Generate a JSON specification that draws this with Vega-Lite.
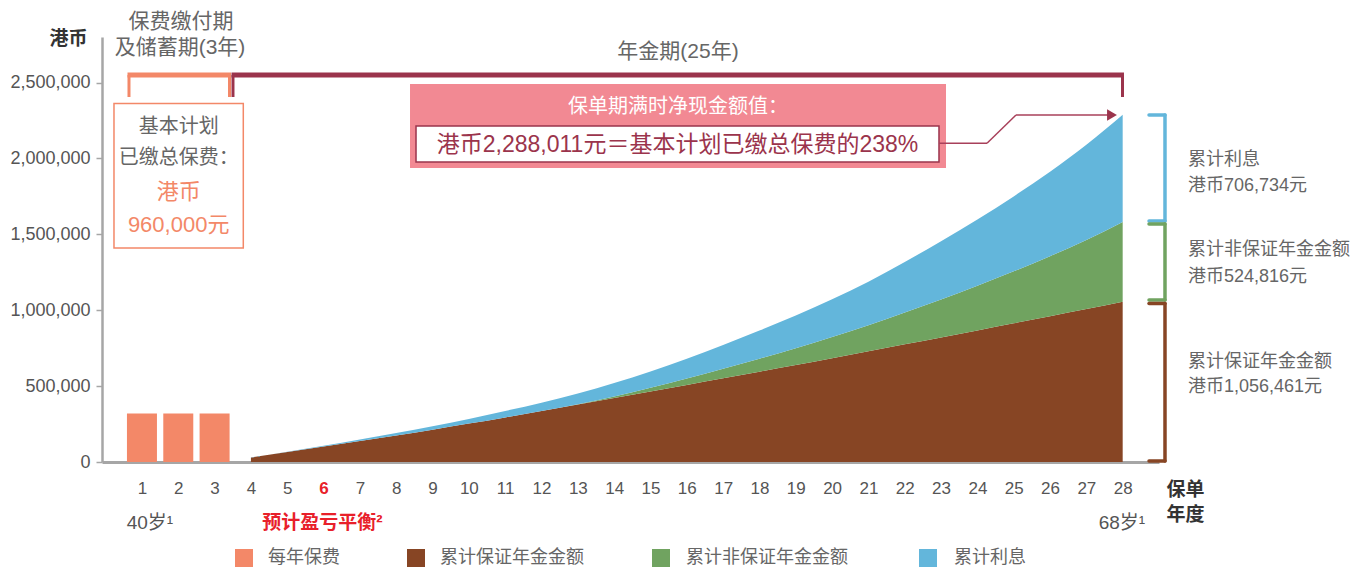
{
  "$schema": "https://vega.github.io/schema/vega-lite/v6.json",
  "width": 1057,
  "height": 425,
  "autosize": "none",
  "padding": {"left": 102, "top": 37, "right": 211, "bottom": 106},
  "background": "white",
  "config": {"view": {"stroke": null}, "font": "Liberation Sans, Noto Sans CJK SC", "scale": {"continuousPadding": 0}},
  "datasets": {
    "premium": [
      {"year": 1, "value": 320000},
      {"year": 2, "value": 320000},
      {"year": 3, "value": 320000}
    ],
    "annuity": [
      {"year": 4, "series": "累计保证年金金额", "k": 1, "value": 30000},
      {"year": 4, "series": "累计非保证年金金额", "k": 2, "value": 0},
      {"year": 4, "series": "累计利息", "k": 3, "value": 500},
      {"year": 5, "series": "累计保证年金金额", "k": 1, "value": 66000},
      {"year": 5, "series": "累计非保证年金金额", "k": 2, "value": 0},
      {"year": 5, "series": "累计利息", "k": 3, "value": 2000},
      {"year": 6, "series": "累计保证年金金额", "k": 1, "value": 102000},
      {"year": 6, "series": "累计非保证年金金额", "k": 2, "value": 0},
      {"year": 6, "series": "累计利息", "k": 3, "value": 5000},
      {"year": 7, "series": "累计保证年金金额", "k": 1, "value": 138000},
      {"year": 7, "series": "累计非保证年金金额", "k": 2, "value": 0},
      {"year": 7, "series": "累计利息", "k": 3, "value": 10000},
      {"year": 8, "series": "累计保证年金金额", "k": 1, "value": 175000},
      {"year": 8, "series": "累计非保证年金金额", "k": 2, "value": 0},
      {"year": 8, "series": "累计利息", "k": 3, "value": 16000},
      {"year": 9, "series": "累计保证年金金额", "k": 1, "value": 213000},
      {"year": 9, "series": "累计非保证年金金额", "k": 2, "value": 0},
      {"year": 9, "series": "累计利息", "k": 3, "value": 22000},
      {"year": 10, "series": "累计保证年金金额", "k": 1, "value": 253000},
      {"year": 10, "series": "累计非保证年金金额", "k": 2, "value": 0},
      {"year": 10, "series": "累计利息", "k": 3, "value": 31000},
      {"year": 11, "series": "累计保证年金金额", "k": 1, "value": 294000},
      {"year": 11, "series": "累计非保证年金金额", "k": 2, "value": 0},
      {"year": 11, "series": "累计利息", "k": 3, "value": 42000},
      {"year": 12, "series": "累计保证年金金额", "k": 1, "value": 336000},
      {"year": 12, "series": "累计非保证年金金额", "k": 2, "value": 0},
      {"year": 12, "series": "累计利息", "k": 3, "value": 55000},
      {"year": 13, "series": "累计保证年金金额", "k": 1, "value": 379000},
      {"year": 13, "series": "累计非保证年金金额", "k": 2, "value": 2000},
      {"year": 13, "series": "累计利息", "k": 3, "value": 70000},
      {"year": 14, "series": "累计保证年金金额", "k": 1, "value": 422000},
      {"year": 14, "series": "累计非保证年金金额", "k": 2, "value": 10000},
      {"year": 14, "series": "累计利息", "k": 3, "value": 88000},
      {"year": 15, "series": "累计保证年金金额", "k": 1, "value": 465000},
      {"year": 15, "series": "累计非保证年金金额", "k": 2, "value": 24000},
      {"year": 15, "series": "累计利息", "k": 3, "value": 108000},
      {"year": 16, "series": "累计保证年金金额", "k": 1, "value": 508000},
      {"year": 16, "series": "累计非保证年金金额", "k": 2, "value": 42000},
      {"year": 16, "series": "累计利息", "k": 3, "value": 130000},
      {"year": 17, "series": "累计保证年金金额", "k": 1, "value": 551000},
      {"year": 17, "series": "累计非保证年金金额", "k": 2, "value": 64000},
      {"year": 17, "series": "累计利息", "k": 3, "value": 156000},
      {"year": 18, "series": "累计保证年金金额", "k": 1, "value": 595000},
      {"year": 18, "series": "累计非保证年金金额", "k": 2, "value": 86000},
      {"year": 18, "series": "累计利息", "k": 3, "value": 185000},
      {"year": 19, "series": "累计保证年金金额", "k": 1, "value": 639000},
      {"year": 19, "series": "累计非保证年金金额", "k": 2, "value": 110000},
      {"year": 19, "series": "累计利息", "k": 3, "value": 216000},
      {"year": 20, "series": "累计保证年金金额", "k": 1, "value": 684000},
      {"year": 20, "series": "累计非保证年金金额", "k": 2, "value": 139000},
      {"year": 20, "series": "累计利息", "k": 3, "value": 250000},
      {"year": 21, "series": "累计保证年金金额", "k": 1, "value": 729000},
      {"year": 21, "series": "累计非保证年金金额", "k": 2, "value": 172000},
      {"year": 21, "series": "累计利息", "k": 3, "value": 287000},
      {"year": 22, "series": "累计保证年金金额", "k": 1, "value": 775000},
      {"year": 22, "series": "累计非保证年金金额", "k": 2, "value": 210000},
      {"year": 22, "series": "累计利息", "k": 3, "value": 333000},
      {"year": 23, "series": "累计保证年金金额", "k": 1, "value": 821000},
      {"year": 23, "series": "累计非保证年金金额", "k": 2, "value": 250000},
      {"year": 23, "series": "累计利息", "k": 3, "value": 383000},
      {"year": 24, "series": "累计保证年金金额", "k": 1, "value": 867000},
      {"year": 24, "series": "累计非保证年金金额", "k": 2, "value": 294000},
      {"year": 24, "series": "累计利息", "k": 3, "value": 437000},
      {"year": 25, "series": "累计保证年金金额", "k": 1, "value": 914000},
      {"year": 25, "series": "累计非保证年金金额", "k": 2, "value": 342000},
      {"year": 25, "series": "累计利息", "k": 3, "value": 494000},
      {"year": 26, "series": "累计保证年金金额", "k": 1, "value": 961000},
      {"year": 26, "series": "累计非保证年金金额", "k": 2, "value": 395000},
      {"year": 26, "series": "累计利息", "k": 3, "value": 556000},
      {"year": 27, "series": "累计保证年金金额", "k": 1, "value": 1008000},
      {"year": 27, "series": "累计非保证年金金额", "k": 2, "value": 455000},
      {"year": 27, "series": "累计利息", "k": 3, "value": 627000},
      {"year": 28, "series": "累计保证年金金额", "k": 1, "value": 1056461},
      {"year": 28, "series": "累计非保证年金金额", "k": 2, "value": 524816},
      {"year": 28, "series": "累计利息", "k": 3, "value": 706734}
    ]
  },
  "layer": [
    {
      "data": {"name": "annuity"},
      "mark": {"type": "area", "interpolate": "monotone"},
      "encoding": {
        "x": {
          "field": "year", "type": "quantitative",
          "scale": {"domain": [-0.1, 29], "nice": false, "zero": false, "padding": 0},
          "axis": {
            "values": [1,2,3,4,5,6,7,8,9,10,11,12,13,14,15,16,17,18,19,20,21,22,23,24,25,26,27,28],
            "tickCount": 40,
            "format": "d", "grid": false, "ticks": false,
            "labelFontSize": 17, "labelPadding": 18, "labelFlush": false, "labelOverlap": false, "labelBound": false,
            "labelColor": {"condition": {"test": "datum.value === 6", "value": "#E8202A"}, "value": "#555555"},
            "labelFontWeight": {"condition": {"test": "datum.value === 6", "value": "bold"}, "value": "normal"},
            "domainColor": "#A6A6A6", "domainWidth": 3,
            "title": ["保单", "年度"], "titleFontSize": 19, "titleFontWeight": "bold", "titleColor": "#333333",
            "titleAngle": 0, "titleAlign": "center", "titleBaseline": "top", "titleX": 1083, "titleY": 18, "titleLineHeight": 25
          }
        },
        "y": {
          "field": "value", "type": "quantitative", "stack": "zero",
          "scale": {"domain": [0, 2800000], "nice": false},
          "axis": {
            "values": [0, 500000, 1000000, 1500000, 2000000, 2500000],
            "format": ",d", "grid": false,
            "labelFontSize": 18, "labelColor": "#555555", "labelPadding": 6,
            "tickColor": "#A6A6A6", "tickSize": 6, "tickWidth": 1.5,
            "domainColor": "#A6A6A6", "domainWidth": 2.5,
            "title": "港币", "titleFontSize": 19, "titleFontWeight": "bold", "titleColor": "#333333",
            "titleAngle": 0, "titleAlign": "center", "titleBaseline": "middle", "titleX": -34, "titleY": 1
          }
        },
        "color": {
          "field": "series", "type": "nominal", "legend": null,
          "scale": {"domain": ["累计保证年金金额", "累计非保证年金金额", "累计利息"], "range": ["#874524", "#70A360", "#63B6DB"]}
        },
        "order": {"field": "k", "type": "quantitative"}
      }
    },
    {
      "data": {"name": "premium"},
      "mark": {"type": "bar", "width": 30, "color": "#F38868"},
      "encoding": {
        "x": {"field": "year", "type": "quantitative"},
        "y": {"field": "value", "type": "quantitative"}
      }
    },
    {"data": {"values": [{}]}, "mark": {"type": "rect", "fill": "white", "stroke": "#F38868", "strokeWidth": 1.5},
     "encoding": {"x": {"datum": 0.23}, "x2": {"datum": 3.79}, "y": {"datum": 2361882}, "y2": {"datum": 1409882}}},
    {"data": {"values": [{}]}, "mark": {"type": "rect", "fill": "#F28993"},
     "encoding": {"x": {"datum": 8.38}, "x2": {"datum": 23.136}, "y": {"datum": 2490353}, "y2": {"datum": 1936941}}},
    {"data": {"values": [{}]}, "mark": {"type": "rect", "fill": "white", "stroke": "#9B344C", "strokeWidth": 1.5},
     "encoding": {"x": {"datum": 8.545}, "x2": {"datum": 22.943}, "y": {"datum": 2213647}, "y2": {"datum": 1976471}}},

    {"data": {"values": [{}]}, "mark": {"type": "rule", "color": "#F38868", "strokeWidth": 5},
     "encoding": {"x": {"datum": 0.602}, "x2": {"datum": 3.451}, "y": {"datum": 2549647}}},
    {"data": {"values": [{}]}, "mark": {"type": "rule", "color": "#F38868", "strokeWidth": 3},
     "encoding": {"x": {"datum": 0.643}, "y": {"datum": 2549647}, "y2": {"datum": 2404706}}},
    {"data": {"values": [{}]}, "mark": {"type": "rule", "color": "#F38868", "strokeWidth": 3},
     "encoding": {"x": {"datum": 3.41}, "y": {"datum": 2549647}, "y2": {"datum": 2404706}}},
    {"data": {"values": [{}]}, "mark": {"type": "rule", "color": "#9B344C", "strokeWidth": 5},
     "encoding": {"x": {"datum": 3.465}, "x2": {"datum": 28.036}, "y": {"datum": 2549647}}},
    {"data": {"values": [{}]}, "mark": {"type": "rule", "color": "#9B344C", "strokeWidth": 3},
     "encoding": {"x": {"datum": 3.506}, "y": {"datum": 2549647}, "y2": {"datum": 2404706}}},
    {"data": {"values": [{}]}, "mark": {"type": "rule", "color": "#9B344C", "strokeWidth": 3},
     "encoding": {"x": {"datum": 27.995}, "y": {"datum": 2549647}, "y2": {"datum": 2404706}}},

    {"data": {"values": [{}]}, "mark": {"type": "rule", "color": "#A8405A", "strokeWidth": 1.5},
     "encoding": {"x": {"datum": 22.943}, "x2": {"datum": 24.265}, "y": {"datum": 2099671}}},
    {"data": {"values": [{}]}, "mark": {"type": "rule", "color": "#A8405A", "strokeWidth": 1.5},
     "encoding": {"x": {"datum": 24.265}, "x2": {"datum": 25.063}, "y": {"datum": 2099671}, "y2": {"datum": 2286118}}},
    {"data": {"values": [{}]}, "mark": {"type": "rule", "color": "#A8405A", "strokeWidth": 1.5},
     "encoding": {"x": {"datum": 25.063}, "x2": {"datum": 27.6}, "y": {"datum": 2286118}}},
    {"data": {"values": [{}]}, "mark": {"type": "point", "shape": "triangle-right", "filled": true, "color": "#9B344C", "size": 130, "opacity": 1},
     "encoding": {"x": {"datum": 27.706}, "y": {"datum": 2286118}}},

    {"data": {"values": [{}]}, "mark": {"type": "rule", "color": "#63B6DB", "strokeWidth": 3.5, "strokeCap": "round"},
     "encoding": {"x": {"datum": 28.725}, "x2": {"datum": 29.165}, "y": {"datum": 2286118}}},
    {"data": {"values": [{}]}, "mark": {"type": "rule", "color": "#63B6DB", "strokeWidth": 3.5, "strokeCap": "round"},
     "encoding": {"x": {"datum": 29.165}, "y": {"datum": 2286118}, "y2": {"datum": 1587765}}},
    {"data": {"values": [{}]}, "mark": {"type": "rule", "color": "#63B6DB", "strokeWidth": 3.5, "strokeCap": "round"},
     "encoding": {"x": {"datum": 28.725}, "x2": {"datum": 29.165}, "y": {"datum": 1587765}}},
    {"data": {"values": [{}]}, "mark": {"type": "rule", "color": "#70A360", "strokeWidth": 3.5, "strokeCap": "round"},
     "encoding": {"x": {"datum": 28.725}, "x2": {"datum": 29.165}, "y": {"datum": 1568000}}},
    {"data": {"values": [{}]}, "mark": {"type": "rule", "color": "#70A360", "strokeWidth": 3.5, "strokeCap": "round"},
     "encoding": {"x": {"datum": 29.165}, "y": {"datum": 1568000}, "y2": {"datum": 1067294}}},
    {"data": {"values": [{}]}, "mark": {"type": "rule", "color": "#70A360", "strokeWidth": 3.5, "strokeCap": "round"},
     "encoding": {"x": {"datum": 28.725}, "x2": {"datum": 29.165}, "y": {"datum": 1067294}}},
    {"data": {"values": [{}]}, "mark": {"type": "rule", "color": "#874524", "strokeWidth": 3.5, "strokeCap": "round"},
     "encoding": {"x": {"datum": 28.725}, "x2": {"datum": 29.165}, "y": {"datum": 1044235}}},
    {"data": {"values": [{}]}, "mark": {"type": "rule", "color": "#874524", "strokeWidth": 3.5, "strokeCap": "round"},
     "encoding": {"x": {"datum": 29.165}, "y": {"datum": 1044235}, "y2": {"datum": 6588}}},
    {"data": {"values": [{}]}, "mark": {"type": "rule", "color": "#874524", "strokeWidth": 3.5, "strokeCap": "round"},
     "encoding": {"x": {"datum": 28.725}, "x2": {"datum": 29.165}, "y": {"datum": 6588}}},

    {"data": {"values": [{}]}, "mark": {"type": "text", "text": "保费缴付期", "fontSize": 21, "color": "#666666"},
     "encoding": {"x": {"datum": 2.075}, "y": {"datum": 2898824}}},
    {"data": {"values": [{}]}, "mark": {"type": "text", "text": "及储蓄期(3年)", "fontSize": 21, "color": "#666666"},
     "encoding": {"x": {"datum": 2.047}, "y": {"datum": 2727529}}},
    {"data": {"values": [{}]}, "mark": {"type": "text", "text": "年金期(25年)", "fontSize": 21, "color": "#666666"},
     "encoding": {"x": {"datum": 15.758}, "y": {"datum": 2701176}}},
    {"data": {"values": [{}]}, "mark": {"type": "text", "text": "基本计划", "fontSize": 20, "color": "#666666"},
     "encoding": {"x": {"datum": 2.01}, "y": {"datum": 2209035}}},
    {"data": {"values": [{}]}, "mark": {"type": "text", "text": "已缴总保费：", "fontSize": 20, "color": "#666666"},
     "encoding": {"x": {"datum": 2.01}, "y": {"datum": 2002824}}},
    {"data": {"values": [{}]}, "mark": {"type": "text", "text": "港币", "fontSize": 22, "color": "#F38868"},
     "encoding": {"x": {"datum": 2.01}, "y": {"datum": 1780800}}},
    {"data": {"values": [{}]}, "mark": {"type": "text", "text": "960,000元", "fontSize": 22, "color": "#F38868"},
     "encoding": {"x": {"datum": 2.01}, "y": {"datum": 1561412}}},
    {"data": {"values": [{}]}, "mark": {"type": "text", "text": "保单期满时净现金额值：", "fontSize": 20, "color": "white"},
     "encoding": {"x": {"datum": 15.758}, "y": {"datum": 2338824}}},
    {"data": {"values": [{}]}, "mark": {"type": "text", "text": "港币2,288,011元＝基本计划已缴总保费的238%", "fontSize": 23, "color": "#9B344C"},
     "encoding": {"x": {"datum": 15.744}, "y": {"datum": 2088471}}},

    {"data": {"values": [{}]}, "mark": {"type": "text", "text": "累计利息", "fontSize": 18, "color": "#666666", "align": "left"},
     "encoding": {"x": {"datum": 29.798}, "y": {"datum": 1989647}}},
    {"data": {"values": [{}]}, "mark": {"type": "text", "text": "港币706,734元", "fontSize": 18, "color": "#666666", "align": "left"},
     "encoding": {"x": {"datum": 29.798}, "y": {"datum": 1818353}}},
    {"data": {"values": [{}]}, "mark": {"type": "text", "text": "累计非保证年金金额", "fontSize": 18, "color": "#666666", "align": "left"},
     "encoding": {"x": {"datum": 29.798}, "y": {"datum": 1396706}}},
    {"data": {"values": [{}]}, "mark": {"type": "text", "text": "港币524,816元", "fontSize": 18, "color": "#666666", "align": "left"},
     "encoding": {"x": {"datum": 29.798}, "y": {"datum": 1218824}}},
    {"data": {"values": [{}]}, "mark": {"type": "text", "text": "累计保证年金金额", "fontSize": 18, "color": "#666666", "align": "left"},
     "encoding": {"x": {"datum": 29.798}, "y": {"datum": 658824}}},
    {"data": {"values": [{}]}, "mark": {"type": "text", "text": "港币1,056,461元", "fontSize": 18, "color": "#666666", "align": "left"},
     "encoding": {"x": {"datum": 29.798}, "y": {"datum": 494118}}},

    {"data": {"values": [{}]}, "mark": {"type": "text", "text": "40岁¹", "fontSize": 19, "color": "#555555"},
     "encoding": {"x": {"datum": 1.22}, "y": {"datum": -401882}}},
    {"data": {"values": [{}]}, "mark": {"type": "text", "text": "预计盈亏平衡²", "fontSize": 19, "fontWeight": "bold", "color": "#E8202A"},
     "encoding": {"x": {"datum": 5.97}, "y": {"datum": -401882}}},
    {"data": {"values": [{}]}, "mark": {"type": "text", "text": "68岁¹", "fontSize": 19, "color": "#555555"},
     "encoding": {"x": {"datum": 27.98}, "y": {"datum": -401882}}},

    {"data": {"values": [{}]}, "mark": {"type": "point", "shape": "square", "filled": true, "opacity": 1, "size": 324, "color": "#F38868"},
     "encoding": {"x": {"datum": 3.809}, "y": {"datum": -632471}}},
    {"data": {"values": [{}]}, "mark": {"type": "point", "shape": "square", "filled": true, "opacity": 1, "size": 324, "color": "#874524"},
     "encoding": {"x": {"datum": 8.545}, "y": {"datum": -632471}}},
    {"data": {"values": [{}]}, "mark": {"type": "point", "shape": "square", "filled": true, "opacity": 1, "size": 324, "color": "#70A360"},
     "encoding": {"x": {"datum": 15.29}, "y": {"datum": -632471}}},
    {"data": {"values": [{}]}, "mark": {"type": "point", "shape": "square", "filled": true, "opacity": 1, "size": 324, "color": "#63B6DB"},
     "encoding": {"x": {"datum": 22.64}, "y": {"datum": -632471}}},
    {"data": {"values": [{}]}, "mark": {"type": "text", "text": "每年保费", "fontSize": 18, "color": "#666666", "align": "left"},
     "encoding": {"x": {"datum": 4.47}, "y": {"datum": -632471}}},
    {"data": {"values": [{}]}, "mark": {"type": "text", "text": "累计保证年金金额", "fontSize": 18, "color": "#666666", "align": "left"},
     "encoding": {"x": {"datum": 9.205}, "y": {"datum": -632471}}},
    {"data": {"values": [{}]}, "mark": {"type": "text", "text": "累计非保证年金金额", "fontSize": 18, "color": "#666666", "align": "left"},
     "encoding": {"x": {"datum": 15.978}, "y": {"datum": -632471}}},
    {"data": {"values": [{}]}, "mark": {"type": "text", "text": "累计利息", "fontSize": 18, "color": "#666666", "align": "left"},
     "encoding": {"x": {"datum": 23.356}, "y": {"datum": -632471}}}
  ]
}
